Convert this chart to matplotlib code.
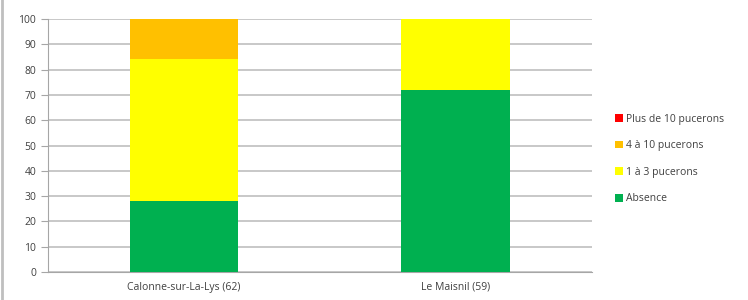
import numpy as np
import matplotlib.pyplot as plt
from matplotlib.lines import Line2D

sites = ['Calonne-sur-La-Lys (62)', 'Le Maisnil (59)']
absence = [28, 72]
un_a_trois = [56, 28]
quatre_a_dix = [16, 0]
plus_de_dix = [0, 0]

series = [('Absence', absence, '#00B050'),
          ('1 à 3 pucerons', un_a_trois, '#FFFF00'),
          ('4 à 10 pucerons', quatre_a_dix, '#FFC000'),
          ('Plus de 10 pucerons', plus_de_dix, '#FF0000')]

plt.rcParams['font.family'] = ['Open Sans', 'DejaVu Sans']

fig = plt.figure(figsize=(7.48, 3.0), dpi=100)
ax = fig.add_axes([0.0642, 0.0933, 0.727, 0.8434])

x = np.arange(len(sites))
bottom = np.zeros(len(sites))
handles = []
for name, vals, col in series:
    b = ax.bar(x, vals, width=0.4, bottom=bottom, color=col, label=name, zorder=3)
    bottom += np.array(vals)
    handles.append(b)

ax.set_xlim(-0.5, 1.5)
ax.set_ylim(0, 100)
ax.set_yticks(range(0, 101, 10))
ax.set_xticks(x)
ax.set_xticklabels(sites)
ax.yaxis.grid(True, color='#BFBFBF', linewidth=1.2, zorder=0)
ax.set_axisbelow(True)
for s in ['top', 'right']:
    ax.spines[s].set_visible(False)
ax.spines['left'].set_color('#A6A6A6')
ax.spines['bottom'].set_color('#A6A6A6')
ax.tick_params(axis='y', length=5, color='#A6A6A6', labelsize=7.5, colors='#404040')
ax.tick_params(axis='x', length=0, labelsize=7.5, colors='#404040', pad=7)

leg = fig.legend(handles[::-1], [s[0] for s in series][::-1], loc='center left',
                 bbox_to_anchor=(0.81, 0.47), frameon=False, fontsize=7.5,
                 handlelength=0.75, handleheight=0.75, handletextpad=0.3,
                 labelspacing=1.5, labelcolor='#404040')

fig.add_artist(Line2D([0.003, 0.003], [0, 1], transform=fig.transFigure,
                      color='#BFBFBF', linewidth=2))

fig.savefig('out.png', dpi=100)
